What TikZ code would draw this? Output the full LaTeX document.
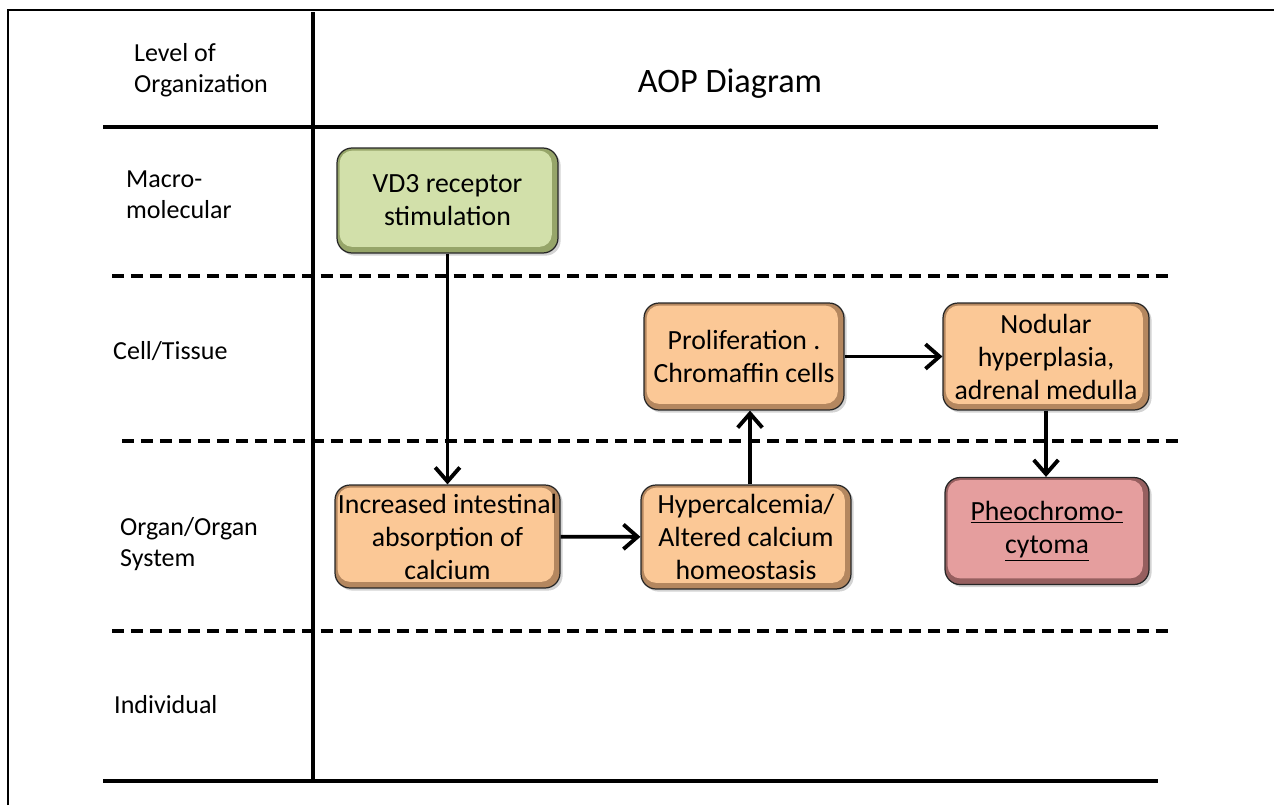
\documentclass[tikz,border=0pt]{standalone}
\usepackage{fontspec}
\setmainfont{Carlito}
\usetikzlibrary{arrows.meta,shadows,calc}

\definecolor{kefill}{RGB}{210,224,170}
\definecolor{keedge}{RGB}{150,165,105}
\definecolor{midfill}{RGB}{251,200,150}
\definecolor{midedge}{RGB}{180,135,95}
\definecolor{aofill}{RGB}{229,158,158}
\definecolor{aoedge}{RGB}{150,95,95}

\tikzset{
  evbox/.style 2 args={draw=black!85, line width=0.7pt, rounded corners=0.3cm,
    fill=#2, align=center, inner sep=0pt,
    font=\fontsize{15.8}{18.8}\selectfont,
    drop shadow={shadow xshift=1.5pt, shadow yshift=-1.5pt, opacity=0.35},
    path picture={\fill[#1, rounded corners=0.25cm]
      ($(path picture bounding box.north west)+(1.5pt,-1.5pt)$) rectangle
      ($(path picture bounding box.south east)+(-3.5pt,3.5pt)$);}},
  lvl/.style={anchor=west, align=left, font=\fontsize{14.8}{17.5}\selectfont},
  solidrule/.style={line width=2.8pt},
  dashrule/.style={line width=2.1pt, dash pattern=on 6.8pt off 4pt},
  flow/.style={line width=2.2pt, -{Straight Barb[length=8pt,width=14pt,line width=2.2pt]}}
}

\begin{document}
\begin{tikzpicture}[x=0.02cm, y=-0.02cm]
    \useasboundingbox (0,0) rectangle (1274,805);

    % Frame and grid of levels
    \draw[line width=1.3pt] (8,805) -- (8,10) -- (1274,10);
    \draw[line width=2.6pt] (313,12) -- (313,781);
    \draw[solidrule] (103,127) -- (1158,127);
    \draw[solidrule] (103,781) -- (1158,781);
    \draw[dashrule] (112,276) -- (1170,276);
    \draw[dashrule] (122,441) -- (1180,441);
    \draw[dashrule] (112,631) -- (1170,631);

    % Headings
    \node[lvl] (lvlhead) at (128,70) {Level of\\Organization};
    \node[font=\fontsize{19.5}{23}\selectfont] (aophead) at (730,84) {AOP Diagram};

    % Levels of organization
    \node[lvl] (macro) at (120,195) {Macro-\\molecular};
    \node[lvl] (cell) at (107,351) {Cell/Tissue};
    \node[lvl] (organ) at (114,544) {Organ/Organ\\System};
    \node[lvl] (indiv) at (108,705) {Individual};

    % Key events
    \node[evbox={kefill}{keedge}, minimum width=4.42cm, minimum height=2.1cm] (vdr) at (447.5,200.5) {VD3 receptor\\stimulation};
    \node[evbox={midfill}{midedge}, minimum width=4.5cm, minimum height=2.06cm] (absorb) at (447.5,536.5) {Increased intestinal\\absorption of\\calcium};
    \node[evbox={midfill}{midedge}, minimum width=4.2cm, minimum height=2.08cm] (hypercal) at (746,537) {Hypercalcemia/\\Altered calcium\\homeostasis};
    \node[evbox={midfill}{midedge}, minimum width=4cm, minimum height=2.14cm] (prolif) at (744,356.5) {Proliferation .\\Chromaffin cells};
    \node[evbox={midfill}{midedge}, minimum width=4.12cm, minimum height=2.14cm] (nodular) at (1046,356.5) {Nodular\\hyperplasia,\\adrenal medulla};

    % Adverse outcome
    \node[evbox={aofill}{aoedge}, minimum width=4.08cm, minimum height=2.14cm] (pheo) at (1047,531) {\underline{Pheochromo-}\\\underline{cytoma}};

    % Relationships
    \coordinate (hyptop) at ($(hypercal.north)+(4,0)$);
    \draw[flow] (vdr) -- (absorb);
    \draw[flow] (absorb) -- (hypercal);
    \draw[flow] (hyptop) -- (hyptop |- prolif.south);
    \draw[flow] (prolif) -- (nodular);
    \draw[flow] (nodular) -- (nodular |- pheo.north);
\end{tikzpicture}
\end{document}
